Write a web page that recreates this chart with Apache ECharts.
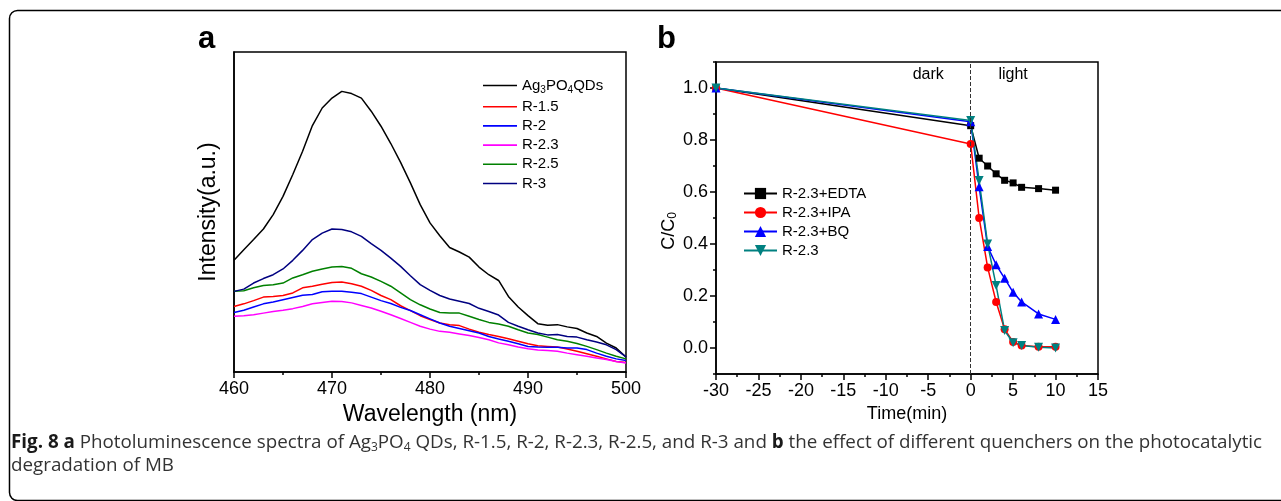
<!DOCTYPE html>
<html>
<head>
<meta charset="utf-8">
<script src="https://cdn.jsdelivr.net/npm/echarts@6/dist/echarts.min.js"></script>
<style>
  html, body { margin: 0; padding: 0; background: #fff; }
  #chart { width: 1281px; height: 501px; }
</style>
</head>
<body>
<div id="chart"></div>
<script>
  // panel a: photoluminescence spectra (arbitrary units, 0-100 = plot height)
  const wavelengths = [460, 461, 462, 463, 464, 465, 466, 467, 468, 469, 470, 471, 472, 473, 474, 475, 476, 477, 478, 479, 480,
    481, 482, 483, 484, 485, 486, 487, 488, 489, 490, 491, 492, 493, 494, 495, 496, 497, 498, 499, 500];
  const plAg3PO4 = [34.9, 38.2, 41.4, 44.7, 49.2, 54.9, 61.7, 69.0, 77.0, 82.5, 85.6, 87.7, 87.0, 85.6, 81.5, 76.8, 71.4, 65.5, 59.1, 52.3, 46.6,
    42.6, 38.9, 37.5, 35.9, 32.8, 30.4, 28.6, 23.6, 20.3, 17.6, 15.1, 14.6, 14.8, 14.1, 13.6, 12.2, 11.1, 9.0, 7.5, 4.7];
  const plR15 = [20.5, 21.3, 22.3, 23.4, 23.6, 23.9, 24.7, 26.3, 26.8, 27.4, 28.0, 28.1, 27.6, 26.8, 25.5, 23.9, 22.6, 20.7, 19.2, 17.6, 16.4,
    15.3, 14.8, 14.5, 13.4, 12.4, 11.7, 11.1, 10.4, 9.6, 8.8, 8.2, 8.0, 7.8, 7.2, 6.5, 5.7, 4.9, 4.1, 3.3, 3.0];
  const plR2 = [18.6, 19.3, 20.3, 21.3, 21.9, 22.6, 23.3, 24.0, 24.2, 25.1, 25.2, 25.2, 24.9, 24.5, 23.4, 22.3, 21.4, 20.2, 19.2, 17.9, 16.6,
    15.3, 14.3, 13.6, 12.9, 12.2, 11.1, 10.3, 9.6, 8.8, 8.0, 7.8, 7.7, 7.7, 7.5, 7.5, 7.0, 5.9, 4.9, 4.1, 3.6];
  const plR23 = [17.4, 17.6, 17.9, 18.4, 18.9, 19.3, 19.8, 20.5, 21.3, 21.7, 22.1, 22.0, 21.6, 20.8, 20.0, 19.0, 17.9, 16.7, 15.5, 14.3, 13.4,
    12.7, 12.4, 11.9, 11.4, 10.8, 10.1, 9.1, 8.5, 7.8, 7.3, 6.9, 6.7, 6.5, 5.9, 5.4, 4.9, 4.4, 3.9, 3.3, 2.8];
  const plR25 = [25.2, 25.4, 26.3, 27.0, 27.3, 27.8, 29.4, 30.4, 31.5, 32.2, 32.8, 33.0, 32.4, 30.7, 29.7, 28.3, 26.8, 24.7, 22.6, 21.0, 19.7,
    18.6, 18.4, 18.4, 17.4, 16.4, 15.5, 15.0, 14.3, 13.2, 12.2, 11.7, 10.9, 10.1, 9.6, 8.9, 8.0, 7.0, 5.9, 4.9, 4.1];
  const plR3 = [25.2, 25.9, 27.8, 29.2, 30.4, 32.2, 34.9, 38.0, 41.4, 43.4, 44.7, 44.5, 43.8, 42.4, 40.1, 38.0, 35.6, 33.0, 30.1, 27.3, 25.5,
    23.9, 22.8, 22.1, 21.4, 19.9, 18.9, 17.8, 15.5, 14.3, 13.2, 12.2, 11.6, 11.7, 11.1, 10.9, 10.1, 9.4, 8.5, 7.0, 4.7];

  // panel b: C/C0 vs time
  const times = [-30, 0, 1, 2, 3, 4, 5, 6, 8, 10];
  const ccEDTA = [1.0, 0.855, 0.73, 0.70, 0.67, 0.645, 0.635, 0.618, 0.613, 0.607];
  const ccIPA = [1.0, 0.785, 0.50, 0.31, 0.177, 0.072, 0.023, 0.01, 0.005, 0.005];
  const ccBQ = [1.0, 0.87, 0.62, 0.39, 0.32, 0.268, 0.214, 0.177, 0.131, 0.11];
  const ccR23 = [1.0, 0.875, 0.644, 0.40, 0.24, 0.067, 0.02, 0.01, 0.003, 0.0];
  const yTicksB = [0, 0.2, 0.4, 0.6, 0.8, 1.0];

  const FONT = "'Liberation Sans', Arial, sans-serif";
  const CAPTION_FONT = "'Open Sans', sans-serif";
  const spec = (arr) => wavelengths.map((w, i) => [w, arr[i]]);
  const kin = (arr) => times.map((t, i) => [t, arr[i]]);

  const axisLine = { show: true, onZero: false, lineStyle: { color: "#000", width: 1.5 } };
  const tickLabel = { fontFamily: FONT, fontSize: 18, color: "#000", margin: 8 };

  const lineA = (name, color, arr) => ({
    name: name,
    type: "line",
    xAxisIndex: 0,
    yAxisIndex: 0,
    symbol: "none",
    lineStyle: { width: 1.5, color: color },
    itemStyle: { color: color },
    data: spec(arr),
  });

  const lineB = (name, color, symbol, size, arr, extra) => Object.assign({
    name: name,
    type: "line",
    xAxisIndex: 1,
    yAxisIndex: 1,
    symbol: symbol,
    symbolSize: size,
    lineStyle: { width: 1.5, color: color },
    itemStyle: { color: color },
    data: kin(arr),
  }, extra || {});

  const chart = echarts.init(document.getElementById("chart"), null, { renderer: "canvas" });

  const option = {
    animation: false,
    backgroundColor: "#fff",
    grid: [
      { left: 234, top: 52, width: 392, height: 320, show: true, borderColor: "#000", borderWidth: 1.5, containLabel: false },
      { left: 716, top: 62, width: 382, height: 312, show: true, borderColor: "#000", borderWidth: 1.5, containLabel: false },
    ],
    xAxis: [
      {
        gridIndex: 0, type: "value", min: 460, max: 500, interval: 10,
        axisLine: axisLine,
        axisTick: { show: true, inside: false, length: 6, lineStyle: { color: "#000", width: 1.5 } },
        minorTick: { show: true, splitNumber: 2, length: 3, lineStyle: { color: "#000", width: 1.5 } },
        splitLine: { show: false },
        axisLabel: tickLabel,
        name: "Wavelength (nm)", nameLocation: "middle", nameGap: 27,
        nameTextStyle: { fontFamily: FONT, fontSize: 23, color: "#000" },
      },
      {
        gridIndex: 1, type: "value", min: -30, max: 15, interval: 5,
        axisLine: axisLine,
        axisTick: { show: true, inside: false, length: 6, lineStyle: { color: "#000", width: 1.5 } },
        minorTick: { show: true, splitNumber: 2, length: 3, lineStyle: { color: "#000", width: 1.5 } },
        splitLine: { show: false },
        axisLabel: tickLabel,
        name: "Time(min)", nameLocation: "middle", nameGap: 29,
        nameTextStyle: { fontFamily: FONT, fontSize: 18, color: "#000" },
      },
    ],
    yAxis: [
      {
        gridIndex: 0, type: "value", min: 0, max: 100,
        axisLine: axisLine,
        axisTick: { show: false },
        splitLine: { show: false },
        axisLabel: { show: false },
        name: "Intensity(a.u.)", nameLocation: "middle", nameGap: 14,
        nameTextStyle: { fontFamily: FONT, fontSize: 23, color: "#000" },
      },
      {
        gridIndex: 1, type: "value", position: "left", min: -0.1, max: 1.1, interval: 0.1,
        axisLine: axisLine,
        axisTick: { show: true, inside: false, length: 3, lineStyle: { color: "#000", width: 1.5 } },
        splitLine: { show: false },
        axisLabel: Object.assign({}, tickLabel, {
          formatter: (v) => (Math.abs(Math.round(v * 10)) % 2 === 0 ? v.toFixed(1) : ""),
        }),
        name: "C/C{sub|0}", nameLocation: "middle", nameGap: 36,
        nameTextStyle: {
          fontFamily: FONT, fontSize: 18, color: "#000", padding: [0, 26, 0, 0],
          rich: { sub: { fontFamily: FONT, fontSize: 12, color: "#000", padding: [9, 0, 0, 0] } },
        },
      },
      {
        // longer major ticks for panel b
        gridIndex: 1, type: "value", position: "left", min: -0.1, max: 1.1, interval: 0.1,
        axisLine: { show: false, onZero: false },
        axisTick: { show: true, inside: false, length: 6, customValues: yTicksB, lineStyle: { color: "#000", width: 1.5 } },
        splitLine: { show: false },
        axisLabel: { show: false },
      },
    ],
    legend: [
      {
        left: 478, top: 73, orient: "vertical",
        icon: "rect", itemWidth: 34, itemHeight: 1.6, itemGap: 4.2,
        data: ["Ag3PO4QDs", "R-1.5", "R-2", "R-2.3", "R-2.5", "R-3"],
        formatter: (name) => (name === "Ag3PO4QDs" ? "Ag{sub|3}PO{sub|4}QDs" : name),
        textStyle: {
          fontFamily: FONT, fontSize: 15, color: "#000", lineHeight: 15,
          rich: { sub: { fontFamily: FONT, fontSize: 10, color: "#000", padding: [9, 0, 0, 0] } },
        },
      },
      {
        left: 738, top: 181, orient: "vertical",
        itemWidth: 33, itemHeight: 14, itemGap: 4,
        data: ["R-2.3+EDTA", "R-2.3+IPA", "R-2.3+BQ", "R-2.3 "],
        formatter: (name) => name.trim(),
        textStyle: { fontFamily: FONT, fontSize: 15, color: "#000" },
      },
    ],
    series: [
      lineA("Ag3PO4QDs", "#000000", plAg3PO4),
      lineA("R-1.5", "#ff0000", plR15),
      lineA("R-2", "#0000ff", plR2),
      lineA("R-2.3", "#ff00ff", plR23),
      lineA("R-2.5", "#008000", plR25),
      lineA("R-3", "#000080", plR3),
      lineB("R-2.3+EDTA", "#000000", "rect", 7, ccEDTA, {
        markLine: {
          silent: true, symbol: ["none", "none"],
          lineStyle: { type: "dashed", color: "#333", width: 1 },
          label: { show: false },
          data: [{ xAxis: 0 }],
        },
        markPoint: {
          silent: true, symbol: "circle", symbolSize: 0,
          label: { show: true, position: "inside", formatter: "{c}", fontFamily: FONT, fontSize: 16, color: "#000" },
          data: [{ coord: [-5, 1.05], value: "dark" }, { coord: [5, 1.05], value: "light" }],
        },
      }),
      lineB("R-2.3+IPA", "#ff0000", "circle", 8, ccIPA),
      lineB("R-2.3+BQ", "#0000ff", "triangle", 9, ccBQ),
      lineB("R-2.3 ", "#008080", "triangle", 9, ccR23, { symbolRotate: 180 }),
    ],
    graphic: [
      {
        type: "rect", silent: true, z: -1,
        shape: { x: 9.5, y: 10.5, width: 1400, height: 490, r: 8 },
        style: { fill: "none", stroke: "#000", lineWidth: 1.5 },
      },
      { type: "text", left: 198, top: 24, style: { text: "a", font: "bold 31px " + FONT, fill: "#000" } },
      { type: "text", left: 657, top: 24, style: { text: "b", font: "bold 31px " + FONT, fill: "#000" } },
      {
        type: "text", x: 11, y: 443,
        style: {
          text: "{b|Fig. 8 a} Photoluminescence spectra of Ag{s|3}PO{s|4} QDs, R-1.5, R-2, R-2.3, R-2.5, and R-3 and {b|b} the effect of different quenchers on the photocatalytic",
          fontFamily: CAPTION_FONT, fontSize: 18.8, fill: "#333", verticalAlign: "middle",
          rich: {
            b: { fontFamily: CAPTION_FONT, fontSize: 18.8, fontWeight: "bold", fill: "#1a1a1a" },
            s: { fontFamily: CAPTION_FONT, fontSize: 12, fill: "#333", padding: [9, 0, 0, 0] },
          },
        },
      },
      {
        type: "text", x: 11, y: 466,
        style: {
          text: "degradation of MB",
          fontFamily: CAPTION_FONT, fontSize: 18.8, fill: "#333", verticalAlign: "middle",
        },
      },
    ],
  };

  chart.setOption(option);

  window.addEventListener("resize", () => {
    chart.resize();
  });
</script>
</body>
</html>
